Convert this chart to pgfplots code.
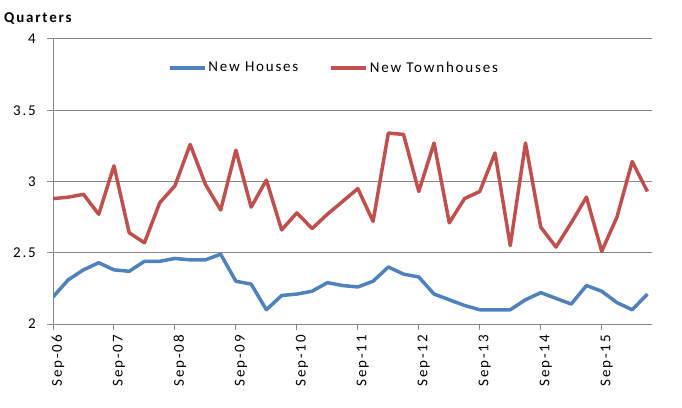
\documentclass[border=0pt]{standalone}
\usepackage{fontspec}
\setmainfont{Carlito}[LetterSpace=12]
\usepackage{pgfplots}
\pgfplotsset{compat=1.18}
\definecolor{exblue}{HTML}{4F81BD}
\definecolor{exred}{HTML}{C0504D}
\definecolor{gridgray}{HTML}{888888}
\begin{document}
\fontsize{15bp}{18bp}\selectfont
\begin{tikzpicture}
\begin{axis}[
  at={(0,0)}, anchor=south west,
  scale only axis, width=599bp, height=285bp,
  xmin=0, xmax=39.3, ymin=2, ymax=4,
  axis x line*=bottom, axis y line*=left,
  axis line style={gridgray, line width=1bp, -},
  xtick={0,4,...,36},
  xticklabels={Sep-06,Sep-07,Sep-08,Sep-09,Sep-10,Sep-11,Sep-12,Sep-13,Sep-14,Sep-15},
  ytick={2,2.5,3,3.5,4},
  tick align=outside, major tick length=6bp,
  tick style={gridgray, line width=1bp},
  ymajorgrids, grid style={gridgray, line width=1bp},
  /pgf/number format/assume math mode=true,
  tick label style={font=\fontsize{15bp}{18bp}\selectfont},
  yticklabel style={xshift=-6bp},
  xticklabel style={rotate=90, anchor=east, yshift=-5bp},
  legend columns=2,
  legend style={at={(0.469,0.898)}, anchor=center, draw=none, fill=none,
    font=\fontsize{15bp}{18bp}\selectfont, /tikz/every even column/.append style={column sep=29bp}},
  legend image code/.code={\draw[#1] (0bp,0bp) -- (35bp,0bp);},
]
\addplot[exblue, line width=3.5bp, line join=round] coordinates {
(0,2.19) (1,2.31) (2,2.38) (3,2.43) (4,2.38) (5,2.37) (6,2.44) (7,2.44) (8,2.46) (9,2.45)
(10,2.45) (11,2.49) (12,2.30) (13,2.28) (14,2.10) (15,2.20) (16,2.21) (17,2.23) (18,2.29) (19,2.27)
(20,2.26) (21,2.30) (22,2.40) (23,2.35) (24,2.33) (25,2.21) (26,2.17) (27,2.13) (28,2.10) (29,2.10)
(30,2.10) (31,2.17) (32,2.22) (33,2.18) (34,2.14) (35,2.27) (36,2.23) (37,2.15) (38,2.10) (39,2.21)
};
\addlegendentry{New Houses}
\addplot[exred, line width=3.5bp, line join=round] coordinates {
(0,2.88) (1,2.89) (2,2.91) (3,2.77) (4,3.11) (5,2.64) (6,2.57) (7,2.85) (8,2.97) (9,3.26)
(10,2.98) (11,2.80) (12,3.22) (13,2.82) (14,3.01) (15,2.66) (16,2.78) (17,2.67) (18,2.77) (19,2.86)
(20,2.95) (21,2.72) (22,3.34) (23,3.33) (24,2.93) (25,3.27) (26,2.71) (27,2.88) (28,2.93) (29,3.20)
(30,2.55) (31,3.27) (32,2.68) (33,2.54) (34,2.71) (35,2.89) (36,2.51) (37,2.75) (38,3.14) (39,2.93)
};
\addlegendentry{New Townhouses}
\end{axis}
\node[anchor=base west, inner sep=0pt, font=\bfseries\fontsize{15bp}{18bp}\selectfont] at (-49bp,301.5bp) {Quarters};
\pgfresetboundingbox
\path[use as bounding box] (-53bp,-84bp) rectangle (629bp,324bp);
\end{tikzpicture}
\end{document}
